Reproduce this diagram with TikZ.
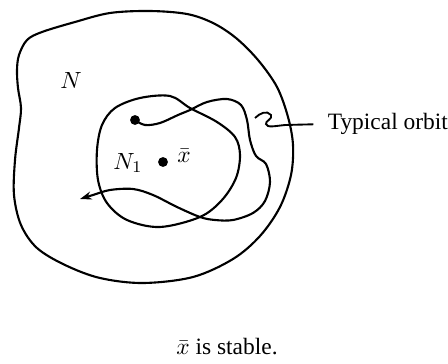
\documentclass[tikz,border=0pt]{standalone}
\usepackage{fontspec}
\setmainfont{Liberation Serif}
\usetikzlibrary{arrows.meta,positioning}

\begin{document}
\begin{tikzpicture}[
  x=0.015cm, y=-0.015cm,
  every node/.style={font=\normalsize},
  region/.style={draw=black,line width=0.9pt,smooth cycle,tension=0.55},
  orbit/.style={draw=black,line width=0.9pt,smooth,tension=0.55},
  ptdot/.style={circle,fill=black,inner sep=0pt,minimum size=4.2pt},
  lbl/.style={inner sep=1pt}
]
  \useasboundingbox (0,0) rectangle (448,363);

  % Outer neighbourhood N.
  \draw[region] plot coordinates {
    (19,55) (27,40) (42,32) (75,22) (110,13) (150,11) (187,14) (213,23)
    (236,38) (258,60) (277,87) (288,117) (293,145) (291,175) (280,207)
    (260,236) (233,259) (193,277) (143,283) (100,278) (65,265) (37,248)
    (21,225) (14,195) (15,160) (19,128) (21,108) (18,88) (17,70)};

  % Inner neighbourhood N_1.
  \draw[region] plot coordinates {
    (97,150) (102,125) (115,108) (140,98) (170,96) (190,108) (217,122)
    (235,137) (240,155) (236,178) (222,200) (200,217) (160,227) (127,220)
    (107,203) (98,180)};

  % Points.
  \node[ptdot] (start) at (135,120) {};
  \node[ptdot] (xbar) at (163,162) {};
  \node[lbl] (xbarlbl) at (184,156) {$\bar{x}$};
  \node[lbl] (nlbl) at (71,80) {$N$};
  \node[lbl] (none) at (128,163) {$N_1$};

  % Typical orbit leaving the start point.
  \coordinate (orbitend) at (80,199);
  \draw[orbit,-{Stealth[length=5pt,width=3.5pt]}] plot coordinates {
    (start.center) (145,125) (160,123) (178,115) (190,110) (207,102) (227,99)
    (241,105) (247,120) (250,140) (256,156) (266,164) (270,182) (265,201)
    (253,213) (233,220) (215,220) (200,217) (177,207) (153,195) (133,189)
    (110,190) (93,195) (orbitend)};

  % Label with wiggly leader.
  \node[lbl,anchor=west] (orbitlbl) at (325,124) {Typical orbit};
  \coordinate (wig) at (255,118);
  \draw[line width=0.8pt,shorten >=5pt] (wig) .. controls (260,113) and (267,110) .. (271,115)
    .. controls (273,119) and (265,121) .. (266,124)
    .. controls (267,128) and (275,126) .. (285,125) -- (orbitlbl.west);

  % Caption.
  \node[lbl] (caption) at (227,347) {$\bar{x}$ is stable.};
\end{tikzpicture}
\end{document}
